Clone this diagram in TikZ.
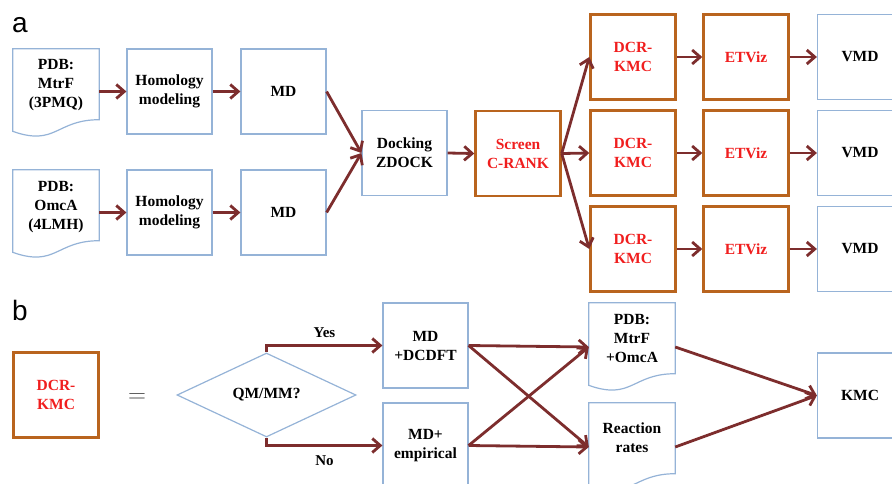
\documentclass[tikz,border=0pt]{standalone}
\usepackage{fontspec}
\setmainfont{Liberation Serif}
\newfontfamily\panelfont{Liberation Sans}
\usetikzlibrary{arrows.meta,shapes.geometric,calc}
\definecolor{arrowc}{RGB}{125,45,45}
\definecolor{boxblue}{RGB}{149,179,215}
\definecolor{boxorange}{RGB}{185,100,30}
\definecolor{txtred}{RGB}{240,30,30}
\definecolor{eqgray}{RGB}{70,70,70}
\tikzset{
  bx/.style={draw=boxblue, line width=1.2pt, minimum width=85pt, minimum height=85pt, inner sep=0pt,
    align=center, font=\fontsize{15.5}{19}\selectfont\bfseries},
  obx/.style={bx, draw=boxorange, line width=2.4pt, text=txtred},
  docbox/.style={minimum width=86pt, minimum height=88pt, inner sep=0pt},
  doctext/.style={align=center, font=\fontsize{15.5}{19}\selectfont\bfseries},
  arr/.style={draw=arrowc, line width=2.8pt, -{Straight Barb[length=8pt,width=14pt]}},
  lbl/.style={font=\fontsize{15}{18}\selectfont\bfseries},
  panel/.style={font=\panelfont\fontsize{28}{30}\selectfont},
}
\newcommand\docoutline[1]{%
  \draw[draw=boxblue, line width=1.2pt]
    (#1.north west) -- (#1.north east) -- ($(#1.north east)!0.802!(#1.south east)$)
    .. controls ($(#1.north)!0.802!(#1.south)$) and ($(#1.north)!1.107!(#1.south)$) ..
    ($(#1.north west)!0.934!(#1.south west)$) -- cycle;}
\begin{document}
\begin{tikzpicture}[x=1pt,y=-1pt]
\useasboundingbox (0,0) rectangle (892,483);
\clip (0,0) rectangle (892,483);
% panel labels
\node[panel] (la) at (20,25) {a};
\node[panel] (lb) at (20,310) {b};
% ---------- panel a ----------
\node[docbox] (d1) at (56,93) {};
\docoutline{d1}
\node[doctext] (d1t) at ([yshift=8pt]d1.center) {PDB:\\MtrF\\(3PMQ)};
\node[docbox] (d2) at (56,214) {};
\docoutline{d2}
\node[doctext] (d2t) at ([yshift=7pt]d2.center) {PDB:\\OmcA\\(4LMH)};
\node[bx] (h1) at (169.5,91.5) {Homology\\modeling};
\node[bx] (h2) at (169.5,212.5) {Homology\\modeling};
\node[bx] (m1) at (283.5,91.5) {MD};
\node[bx] (m2) at (283.5,212.5) {MD};
\node[bx] (dock) at (404.5,153) {Docking\\ZDOCK};
\node[obx] (scr) at (518,153.5) {Screen\\C-RANK};
\foreach \i/\y in {1/57,2/153,3/249}{
  \node[obx] (dcr\i) at (633,\y) {DCR-\\KMC};
  \node[obx] (et\i) at (746,\y) {ETViz};
  \node[bx] (vmd\i) at (860,\y) {VMD};
  \draw[arr] (scr.east) -- (dcr\i.west);
  \draw[arr] (dcr\i.east) -- (et\i.west);
  \draw[arr] (et\i.east) -- (vmd\i.west);
}
\draw[arr] (h1.west -| d1.east) -- (h1.west);
\draw[arr] (h2.west -| d2.east) -- (h2.west);
\draw[arr] (h1.east) -- (m1.west);
\draw[arr] (h2.east) -- (m2.west);
\draw[arr] (m1.east) -- (dock.west);
\draw[arr] (m2.east) -- (dock.west);
\draw[arr] (dock.east) -- (scr.west);
% ---------- panel b ----------
\node[obx] (kb) at (56,395) {DCR-\\KMC};
\node[font=\fontsize{34}{34}\selectfont, text=eqgray] (eq) at (137,398.5) {$=$};
\node[diamond, draw=boxblue, line width=1.2pt, minimum width=179pt, minimum height=84pt, inner sep=0pt,
  font=\fontsize{15.5}{19}\selectfont\bfseries] (dia) at (266.5,395) {QM/MM?};
\node[bx] (mdd) at (425.5,345.5) {MD\\+DCDFT};
\node[bx] (mde) at (425.5,445.5) {MD+\\empirical};
\node[docbox] (pdb3) at (632,347) {};
\docoutline{pdb3}
\node[doctext] (pdb3t) at ([yshift=9pt]pdb3.center) {PDB:\\MtrF\\+OmcA};
\node[docbox] (rr) at (632,447) {};
\docoutline{rr}
\node[doctext] (rrt) at ([yshift=9pt]rr.center) {Reaction\\rates};
\node[bx] (kmc) at (860,395.5) {KMC};
\draw[arr] (dia.north) |- (mdd.west) node[lbl, pos=0.75, above=3pt] (yes) {Yes};
\draw[arr] (dia.south) |- (mde.west) node[lbl, pos=0.75, below=5pt] (no) {No};
\draw[arr] (mdd.east) -- (pdb3.west);
\draw[arr] (mdd.east) -- (rr.west);
\draw[arr] (mde.east) -- (pdb3.west);
\draw[arr] (mde.east) -- (rr.west);
\draw[arr] (pdb3.east) -- (kmc.west);
\draw[arr] (rr.east) -- (kmc.west);
\end{tikzpicture}
\end{document}
